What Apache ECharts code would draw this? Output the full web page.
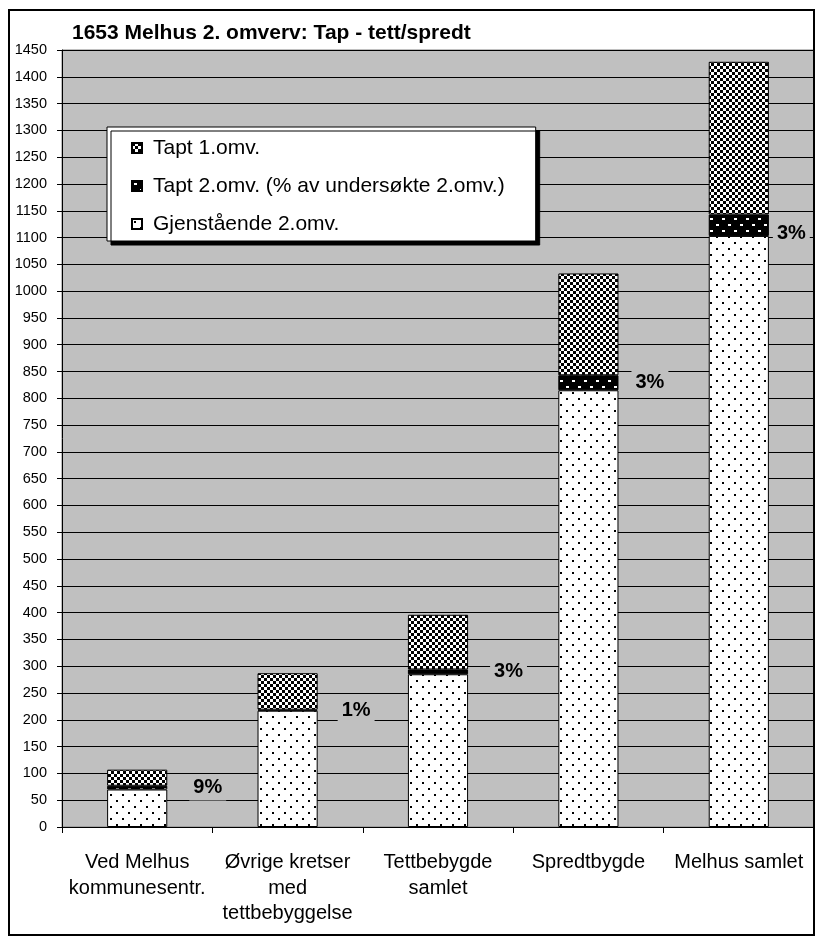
<!DOCTYPE html>
<html><head><meta charset="utf-8">
<script src="https://cdn.jsdelivr.net/npm/echarts@6/dist/echarts.min.js"></script>
<style>html,body{margin:0;padding:0;background:#fff}#c{width:816px;height:945px}</style>
</head><body><div id="c"></div>
<script>
const titleText = '1653 Melhus 2. omverv: Tap - tett/spredt';
const categories = ['Ved Melhus\nkommunesentr.', 'Øvrige kretser\nmed\ntettbebyggelse', 'Tettbebygde\nsamlet', 'Spredtbygde', 'Melhus samlet'];
const seriesNames = ['Tapt 1.omv.', 'Tapt 2.omv. (% av undersøkte 2.omv.)', 'Gjenstående 2.omv.'];
const gjenstaende = [70, 217, 285, 815, 1103];
const tapt2 = [7, 2, 9, 28, 40];
const tapt1 = [30, 68, 102, 190, 285];
const pctLabels = ['9%', '1%', '3%', '3%', '3%'];
const yTicks = {min: 0, max: 1450, step: 50};

function pattern(size, draw) {
  const c = document.createElement('canvas');
  c.width = size; c.height = size;
  const g = c.getContext('2d');
  draw(g);
  return {image: c, repeat: 'repeat'};
}
const patGjen = pattern(12, g => {
  g.fillStyle = '#fff'; g.fillRect(0,0,12,12);
  g.fillStyle = '#000'; g.fillRect(2,2,2,2); g.fillRect(8,8,2,2);
});
const patT2 = pattern(12, g => {
  g.fillStyle = '#000'; g.fillRect(0,0,12,12);
  g.fillStyle = '#fff'; g.fillRect(2,2,3,2); g.fillRect(8,8,3,2);
});
const patT1 = pattern(6, g => {
  g.fillStyle = '#fff'; g.fillRect(0,0,6,6);
  g.fillStyle = '#000'; g.fillRect(0,0,3,3); g.fillRect(3,3,3,3);
});

const font = 'Liberation Sans, Arial, sans-serif';
const chart = echarts.init(document.getElementById('c'), null, {renderer: 'canvas'});

const labelDist = [22, 20, 22, 13, 4];
const t2Data = tapt2.map((v, i) => {
  const item = {value: v, label: {distance: labelDist[i]}};
  if (i === tapt2.length - 1) item.label.offset = [0, 8];
  return item;
});

chart.setOption({
  animation: false,
  title: {text: titleText, left: 67, top: 18, textStyle: {fontFamily: font, fontSize: 21, fontWeight: 'bold', color: '#000'}},
  graphic: [{type: 'rect', shape: {x: 9, y: 10, width: 805, height: 925}, style: {fill: 'none', stroke: '#000', lineWidth: 2}, z: 100}],
  legend: {
    data: seriesNames, orient: 'vertical', left: 107, top: 127,
    itemWidth: 10, itemHeight: 10, itemGap: 14, icon: 'rect',
    padding: [9, 31, 5, 24],
    backgroundColor: '#fff', borderColor: '#000', borderWidth: 1,
    shadowColor: '#000', shadowOffsetX: 4, shadowOffsetY: 4, shadowBlur: 0,
    textStyle: {fontFamily: font, fontSize: 21, lineHeight: 24, color: '#000', padding: [0, 0, 0, 6]}
  },
  grid: {left: 62, right: 2, top: 50, bottom: 118, show: true, backgroundColor: '#c0c0c0', borderColor: '#808080', borderWidth: 1},
  xAxis: {
    type: 'category', data: categories,
    axisLine: {lineStyle: {color: '#000', width: 1}},
    axisTick: {show: true, length: 6, lineStyle: {color: '#000'}},
    axisLabel: {fontFamily: font, fontSize: 20, color: '#000', lineHeight: 25.5, margin: 23, interval: 0}
  },
  yAxis: {
    type: 'value', min: yTicks.min, max: yTicks.max, interval: yTicks.step,
    axisLine: {show: true, lineStyle: {color: '#000'}},
    axisTick: {show: true, length: 5, lineStyle: {color: '#000'}},
    splitLine: {lineStyle: {color: '#000', width: 1}},
    axisLabel: {fontFamily: font, fontSize: 14.5, color: '#000', margin: 15, formatter: v => String(v)}
  },
  series: [
    {name: seriesNames[2], type: 'bar', stack: 's', barWidth: '40%', data: gjenstaende,
     itemStyle: {color: patGjen, borderColor: '#000', borderWidth: 1}},
    {name: seriesNames[1], type: 'bar', stack: 's', data: t2Data,
     itemStyle: {color: patT2, borderColor: '#000', borderWidth: 1},
     label: {show: true, position: 'right', formatter: p => pctLabels[p.dataIndex],
       fontFamily: font, fontSize: 20, fontWeight: 'bold', color: '#000', backgroundColor: '#c0c0c0', padding: [3, 4]}},
    {name: seriesNames[0], type: 'bar', stack: 's', data: tapt1,
     itemStyle: {color: patT1, borderColor: '#000', borderWidth: 1}}
  ]
});
</script></body></html>
